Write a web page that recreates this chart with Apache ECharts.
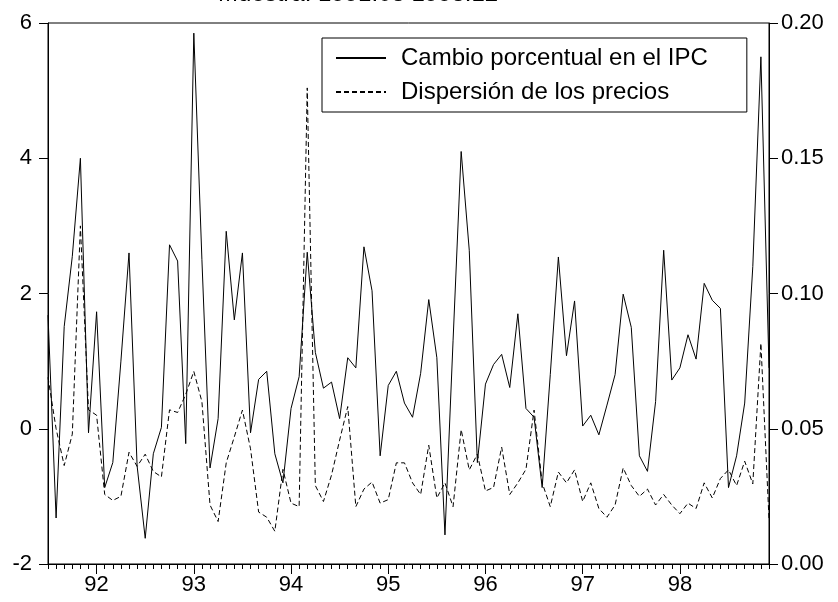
<!DOCTYPE html>
<html>
<head>
<meta charset="utf-8">
<script src="https://cdn.jsdelivr.net/npm/echarts@6/dist/echarts.min.js"></script>
<style>
html,body{margin:0;padding:0;background:#fff;}
#chart{width:838px;height:602px;}
</style>
</head>
<body>
<div id="chart"></div>
<script>
var months = [
'1991:07','1991:08','1991:09','1991:10','1991:11','1991:12',
'1992:01','1992:02','1992:03','1992:04','1992:05','1992:06','1992:07','1992:08','1992:09','1992:10','1992:11','1992:12',
'1993:01','1993:02','1993:03','1993:04','1993:05','1993:06','1993:07','1993:08','1993:09','1993:10','1993:11','1993:12',
'1994:01','1994:02','1994:03','1994:04','1994:05','1994:06','1994:07','1994:08','1994:09','1994:10','1994:11','1994:12',
'1995:01','1995:02','1995:03','1995:04','1995:05','1995:06','1995:07','1995:08','1995:09','1995:10','1995:11','1995:12',
'1996:01','1996:02','1996:03','1996:04','1996:05','1996:06','1996:07','1996:08','1996:09','1996:10','1996:11','1996:12',
'1997:01','1997:02','1997:03','1997:04','1997:05','1997:06','1997:07','1997:08','1997:09','1997:10','1997:11','1997:12',
'1998:01','1998:02','1998:03','1998:04','1998:05','1998:06','1998:07','1998:08','1998:09','1998:10','1998:11','1998:12'
];

var cambioIPC = [
1.68,-1.32,1.51,2.55,4.0,-0.06,
1.73,-0.87,-0.5,1.0,2.6,-0.55,-1.62,-0.37,0.02,2.72,2.48,-0.22,
5.85,2.5,-0.58,0.15,2.92,1.61,2.6,-0.06,0.73,0.85,-0.37,-0.8,
0.3,0.77,2.61,1.13,0.6,0.69,0.15,1.05,0.9,2.69,2.04,-0.4,
0.64,0.85,0.38,0.17,0.82,1.91,1.05,-1.57,1.3,4.1,2.64,-0.5,
0.66,0.95,1.1,0.61,1.7,0.3,0.17,-0.87,0.8,2.54,1.08,1.89,
0.04,0.2,-0.09,0.35,0.8,1.99,1.5,-0.4,-0.63,0.4,2.64,0.72,
0.9,1.39,1.03,2.15,1.9,1.78,-0.87,-0.4,0.38,2.4,5.5,0.9
];

var dispersion = [
0.069,0.05,0.0364,0.048,0.125,0.057,
0.055,0.0257,0.0235,0.025,0.0413,0.0361,0.0406,0.0342,0.0322,0.057,0.056,0.0627,
0.0712,0.06,0.0218,0.0157,0.0374,0.047,0.0569,0.0426,0.0192,0.0173,0.0121,0.035,
0.0225,0.0212,0.176,0.029,0.0231,0.0329,0.0458,0.0582,0.0212,0.0277,0.0303,0.0225,
0.0238,0.0374,0.0374,0.030,0.0257,0.0439,0.0244,0.030,0.0212,0.0497,0.0348,0.0406,
0.027,0.0283,0.0432,0.0257,0.030,0.035,0.0569,0.03,0.0212,0.034,0.030,0.0348,
0.0231,0.030,0.0205,0.0173,0.0218,0.0355,0.029,0.025,0.0277,0.0218,0.0257,0.0218,
0.0186,0.0225,0.0205,0.030,0.0244,0.0316,0.0348,0.029,0.038,0.0296,0.0816,0.0166
];

var seriesNames = ['Cambio porcentual en el IPC', 'Dispersión de los precios'];
var titleText = 'Muestra: 1991:08 1998:12';
var leftTicks = [-2, 0, 2, 4, 6];
var rightTicks = [0.00, 0.05, 0.10, 0.15, 0.20];

var FONT = 'Liberation Sans, Arial, sans-serif';
function isJan(idx, val) { return months[idx].slice(5) === '01'; }

var chart = echarts.init(document.getElementById('chart'), null, {renderer: 'canvas'});
chart.setOption({
  animation: false,
  backgroundColor: '#fff',
  title: {
    text: titleText, left: 218, top: -18, padding: 0,
    textStyle: {fontFamily: FONT, fontSize: 24, fontWeight: 'normal', color: '#000'}
  },
  legend: {
    orient: 'vertical', left: 322, top: 38,
    data: seriesNames,
    borderColor: '#000', borderWidth: 1, borderRadius: 0,
    padding: [8, 39, 8, 13],
    itemWidth: 50, itemHeight: 14, itemGap: 10,
    itemStyle: {opacity: 0, borderWidth: 0},
    textStyle: {fontFamily: FONT, fontSize: 24, color: '#000', padding: [0, 0, 0, 10]}
  },
  grid: {
    left: 48, right: 69, top: 23, bottom: 38,
    show: true, borderColor: '#000', borderWidth: 1, backgroundColor: 'transparent'
  },
  xAxis: [{
    type: 'category', data: months, boundaryGap: false,
    axisLine: {show: true, onZero: false, lineStyle: {color: '#000', width: 1}},
    axisTick: {show: true, interval: 0, length: 5, lineStyle: {color: '#000'}},
    axisLabel: {show: false},
    splitLine: {show: false}
  }, {
    type: 'category', data: months, boundaryGap: false, position: 'bottom',
    axisLine: {show: false, onZero: false},
    axisTick: {show: true, interval: isJan, length: 10, lineStyle: {color: '#000'}},
    axisLabel: {show: true, interval: isJan, margin: 10,
      formatter: function (v) { return v.slice(2, 4); },
      fontFamily: FONT, fontSize: 22, color: '#000'},
    splitLine: {show: false}
  }],
  yAxis: [{
    type: 'value', min: leftTicks[0], max: leftTicks[leftTicks.length - 1], interval: 2,
    position: 'left',
    axisLine: {show: true, lineStyle: {color: '#000'}},
    axisTick: {show: true, length: 9, lineStyle: {color: '#000'}},
    axisLabel: {margin: 16, fontFamily: FONT, fontSize: 22, color: '#000',
      formatter: function (v) { return String(v); }},
    splitLine: {show: false}
  }, {
    type: 'value', min: rightTicks[0], max: rightTicks[rightTicks.length - 1], interval: 0.05,
    position: 'right',
    axisLine: {show: true, lineStyle: {color: '#000'}},
    axisTick: {show: true, length: 9, lineStyle: {color: '#000'}},
    axisLabel: {margin: 12, fontFamily: FONT, fontSize: 22, color: '#000',
      formatter: function (v) { return v.toFixed(2); }},
    splitLine: {show: false}
  }],
  series: [{
    name: seriesNames[0], type: 'line', xAxisIndex: 0, yAxisIndex: 0,
    data: cambioIPC, symbol: 'none', smooth: false,
    lineStyle: {color: '#000', width: 1}, itemStyle: {color: '#000'}
  }, {
    name: seriesNames[1], type: 'line', xAxisIndex: 0, yAxisIndex: 1,
    data: dispersion, symbol: 'none', smooth: false,
    lineStyle: {color: '#000', width: 1, type: [5, 3]}, itemStyle: {color: '#000'}
  }]
});
</script>
</body>
</html>
